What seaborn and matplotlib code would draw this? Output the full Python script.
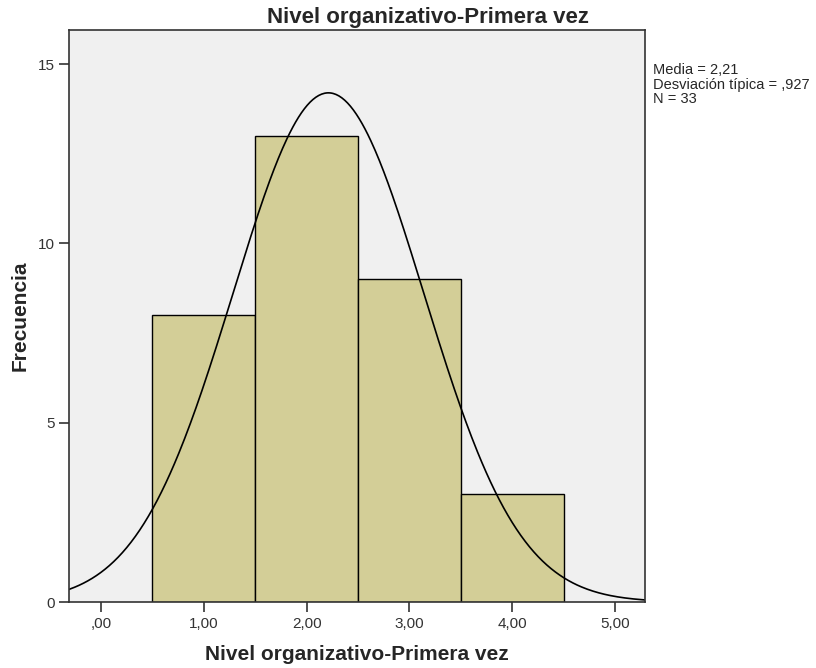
import numpy as np
import pandas as pd
import matplotlib
matplotlib.use("Agg")
import matplotlib.pyplot as plt
import seaborn as sns

categories = [1, 2, 3, 4]
counts = [8, 13, 9, 3]
x_ticks = [0, 1, 2, 3, 4, 5]
x_tick_labels = [",00", "1,00", "2,00", "3,00", "4,00", "5,00"]
y_ticks = [0, 5, 10, 15]
title = "Nivel organizativo-Primera vez"
stats_text = "Media = 2,21\nDesviación típica = ,927\nN = 33"

sns.set_style("white")
plt.rcParams['font.family'] = ['Liberation Sans', 'DejaVu Sans']

df = pd.DataFrame({"valor": categories, "frecuencia": counts})

fig = plt.figure(figsize=(8.16, 6.68), dpi=100)
ax = fig.add_axes([69/816, 66/668, (645-69)/816, (602-30)/668])
ax.set_facecolor("#f0f0f0")

sns.histplot(data=df, x="valor", weights="frecuencia", bins=[0.5, 1.5, 2.5, 3.5, 4.5],
             color="#d3ce97", alpha=1, edgecolor="black", linewidth=1.0, ax=ax)

# Normal curve from data
vals = np.repeat(categories, counts)
n = len(vals)
mu = vals.mean()
sd = vals.std(ddof=1)
xs = np.linspace(-0.31, 5.29, 400)
ys = n * 1.0 / (sd * np.sqrt(2 * np.pi)) * np.exp(-0.5 * ((xs - mu) / sd) ** 2)
sns.lineplot(x=xs, y=ys, color="black", linewidth=1.2, ax=ax)

ax.set_xlim(-0.31, 5.29)
ax.set_ylim(0, 15.95)
ax.set_xticks(x_ticks)
ax.set_xticklabels(x_tick_labels, fontsize=11, color="#333333")
ax.set_yticks(y_ticks)
ax.set_yticklabels([str(v) for v in y_ticks], fontsize=11, color="#333333")
ax.tick_params(axis="both", direction="out", length=7, width=1.2, color="#333333", bottom=True, left=True)

for s in ax.spines.values():
    s.set_visible(True)
    s.set_color("#333333")
    s.set_linewidth(1.2)

ax.set_xlabel("Nivel organizativo-Primera vez", fontsize=15, fontweight="bold")
ax.xaxis.set_label_coords(0.5, (602 - 655) / 572, transform=ax.transAxes)
ax.xaxis.label.set_va("center")
ax.set_ylabel("Frecuencia", fontsize=15, fontweight="bold")
ax.yaxis.set_label_coords((20 - 69) / 576, 0.5, transform=ax.transAxes)
ax.yaxis.label.set_va("center")

fig.text(428/816, 1 - 17/668, title, fontsize=16, fontweight="bold", ha="center", va="center")

fig.text(653/816, 1 - 63/668, stats_text, fontsize=10.5, va="top", ha="left", linespacing=1.05)

fig.savefig("out.png", dpi=100, facecolor="white")
